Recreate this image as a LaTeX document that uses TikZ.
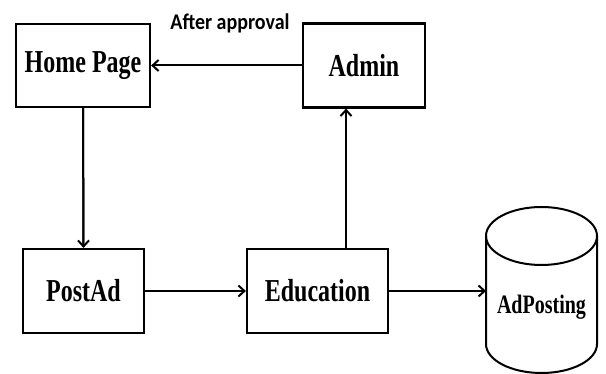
\documentclass[tikz,border=0pt]{standalone}
\usepackage{fontspec}
\setmainfont{Liberation Serif}
\newfontfamily\notefont{Carlito}
\usepackage{tikz}
\usetikzlibrary{arrows.meta}

\newcommand{\boxtext}[1]{\scalebox{1}[1.33]{\fontsize{24}{24}\selectfont\bfseries #1}}

\begin{document}
\begin{tikzpicture}[x=1pt,y=1pt]
    \tikzstyle{page}=[draw, rectangle, inner sep=0pt, line width=2.2pt]
    \tikzstyle{flow}=[draw, line width=2pt, -{Straight Barb[length=6pt,width=11pt]},
        preaction={draw, line width=2pt, -, shorten >=1pt}]
\useasboundingbox (0,0) rectangle (606,374);
% boxes
\node[page, minimum width=134pt, minimum height=83pt] (home) at (83,308.5) {\boxtext{Home Page}};
\node[page, minimum width=122pt, minimum height=84pt] (admin) at (364,308.5) {\boxtext{Admin}};
\node[page, minimum width=121pt, minimum height=84pt] (postad) at (83.5,83) {\boxtext{PostAd}};
\node[page, minimum width=141pt, minimum height=84pt] (education) at (317.5,83) {\boxtext{Education}};
% database
\draw[line width=2pt] (486,138) -- (486,30) arc[start angle=180, end angle=360, x radius=55.5, y radius=29] -- (597,138);
\draw[line width=2pt] (541.5,138) ellipse [x radius=55.5, y radius=29];
\coordinate (dbin) at (486,83);
\node (adposting) at (541.5,67) {\scalebox{1}[1.33]{\fontsize{20}{20}\selectfont\bfseries AdPosting}};
\node (approval) at (230,351) {\scalebox{1}[1.12]{\notefont\bfseries\fontsize{20}{20}\selectfont After approval}};
% arrows
\path[flow] (admin.west) -- (home.east);
\path[flow] (home.south) -- (postad.north);
\path[flow] (postad.east) -- (postad.east -| education.west);
\path[flow] ([xshift=28.5pt]education.north) -- ([xshift=28.5pt]education.north |- admin.south);
\path[flow] (education.east) -- (dbin);
\end{tikzpicture}
\end{document}
